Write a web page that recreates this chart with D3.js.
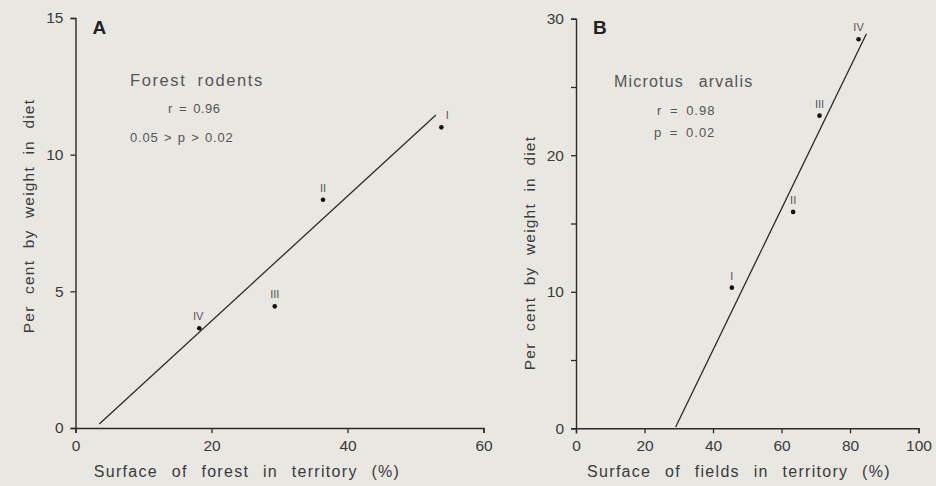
<!DOCTYPE html>
<html><head><meta charset="utf-8">
<script src="https://cdn.jsdelivr.net/npm/d3@7"></script>
<style>
body{margin:0;background:#e9e7e2;}
svg{display:block;}
text{font-family:"Liberation Sans",Arial,sans-serif;}
</style></head><body>
<svg id="c" width="936" height="486"></svg>
<script>
// ---- data ----
const labelsA = ["I","II","III","IV"];
const forestX = [53.8, 36.4, 29.3, 18.2];
const dietA   = [11.0, 8.35, 4.45, 3.65];
const lineAX  = [3.5, 53.0];
const lineAY  = [0.15, 11.45];
const ticksAX = [0,20,40,60];
const ticksAY = [0,5,10,15];

const labelsB = ["I","II","III","IV"];
const fieldsX = [45.5, 63.4, 71.1, 82.5];
const dietB   = [10.3, 15.85, 22.9, 28.5];
const lineBX  = [29.1, 84.8];
const lineBY  = [0.1, 28.9];
const ticksBX = [0,20,40,60,80,100];
const ticksBY = [0,5,10,15,20,25,30];
const labelsBY = [0,10,20,30];

const svg = d3.select("#c");
const ink = "#2a2a2a", txt = "#3a3a3a", soft = "#555";

function panel(o){
  const x = d3.scaleLinear().domain(o.xd).range(o.xr);
  const y = d3.scaleLinear().domain(o.yd).range(o.yr);
  const g = svg.append("g");
  const xa = g.append("g").attr("transform",`translate(0,${o.yr[0]})`)
    .call(d3.axisBottom(x).tickValues(o.tx).tickSize(5).tickPadding(7).tickFormat(d3.format("d")));
  const ya = g.append("g").attr("transform",`translate(${o.xr[0]},0)`)
    .call(d3.axisLeft(y).tickValues(o.ty).tickSize(5).tickPadding(7)
      .tickFormat(d => o.tyl.includes(d) ? d : ""));
  [xa,ya].forEach(a=>{
    a.select(".domain").attr("stroke",ink).attr("stroke-width",1.4);
    a.selectAll(".tick line").attr("stroke",ink).attr("stroke-width",1.3);
    a.selectAll(".tick text").attr("fill",txt).attr("font-size",15.5);
  });
  // regression line
  g.append("line")
    .attr("x1",x(o.lx[0])).attr("y1",y(o.ly[0]))
    .attr("x2",x(o.lx[1])).attr("y2",y(o.ly[1]))
    .attr("stroke",ink).attr("stroke-width",1.3);
  // points
  const pts = o.px.map((v,i)=>({x:v,y:o.py[i],l:o.pl[i]}));
  g.selectAll("circle").data(pts).join("circle")
    .attr("cx",d=>x(d.x)).attr("cy",d=>y(d.y)).attr("r",2.3).attr("fill","#111");
  g.selectAll("text.pl").data(pts).join("text").attr("class","pl")
    .attr("x",d=>x(d.x)+(o.ldx[d.l]||0)).attr("y",d=>y(d.y)-8)
    .attr("text-anchor","middle").attr("font-size",11).attr("fill",soft).text(d=>d.l);
  // panel letter
  g.append("text").attr("x",o.xr[0]+17).attr("y",34).attr("font-size",19)
    .attr("font-weight","bold").attr("fill","#222").text(o.letter);
  // annotations
  o.notes.forEach(n=>{
    g.append("text").attr("x",n.x).attr("y",n.y).attr("font-size",n.s)
      .attr("text-anchor",n.a||"start").attr("fill",soft)
      .attr("letter-spacing",n.ls||0).attr("word-spacing",n.ws||0).text(n.t);
  });
  // axis titles
  g.append("text").attr("x",o.xtx).attr("y",477).attr("text-anchor","middle")
    .attr("font-size",16).attr("fill",txt).attr("letter-spacing",1.3).attr("word-spacing",8)
    .text(o.xtitle);
  g.append("text").attr("transform",`translate(${o.ytx},${o.yty}) rotate(-90)`)
    .attr("text-anchor","middle").attr("font-size",15.5).attr("fill",txt)
    .attr("letter-spacing",1.2).attr("word-spacing",6).text("Per cent by weight in diet");
}

panel({xd:[0,60],xr:[75.5,483.5],yd:[0,15],yr:[428,18],tx:ticksAX,ty:ticksAY,tyl:ticksAY,
  lx:lineAX,ly:lineAY,px:forestX,py:dietA,pl:labelsA,ldx:{"I":6,"IV":-1},letter:"A",
  notes:[{x:130,y:86,s:16.5,t:"Forest rodents",ls:1.6,ws:5},
         {x:168,y:113,s:13,t:"r = 0.96",ls:0.5,ws:2},
         {x:130,y:142,s:13,t:"0.05 > p > 0.02",ls:0.8,ws:1}],
  xtitle:"Surface of forest in territory (%)",xtx:247,ytx:34,yty:216});

panel({xd:[0,100],xr:[576,918.5],yd:[0,30],yr:[428.3,18.7],tx:ticksBX,ty:ticksBY,tyl:labelsBY,
  lx:lineBX,ly:lineBY,px:fieldsX,py:dietB,pl:labelsB,ldx:{},letter:"B",
  notes:[{x:614,y:87,s:16,t:"Microtus arvalis",ls:1.2,ws:9},
         {x:657,y:115,s:13,t:"r = 0.98",ls:1,ws:3},
         {x:654,y:137,s:13,t:"p = 0.02",ls:1,ws:3}],
  xtitle:"Surface of fields in territory (%)",xtx:739,ytx:535,yty:253});
</script>
</body></html>
